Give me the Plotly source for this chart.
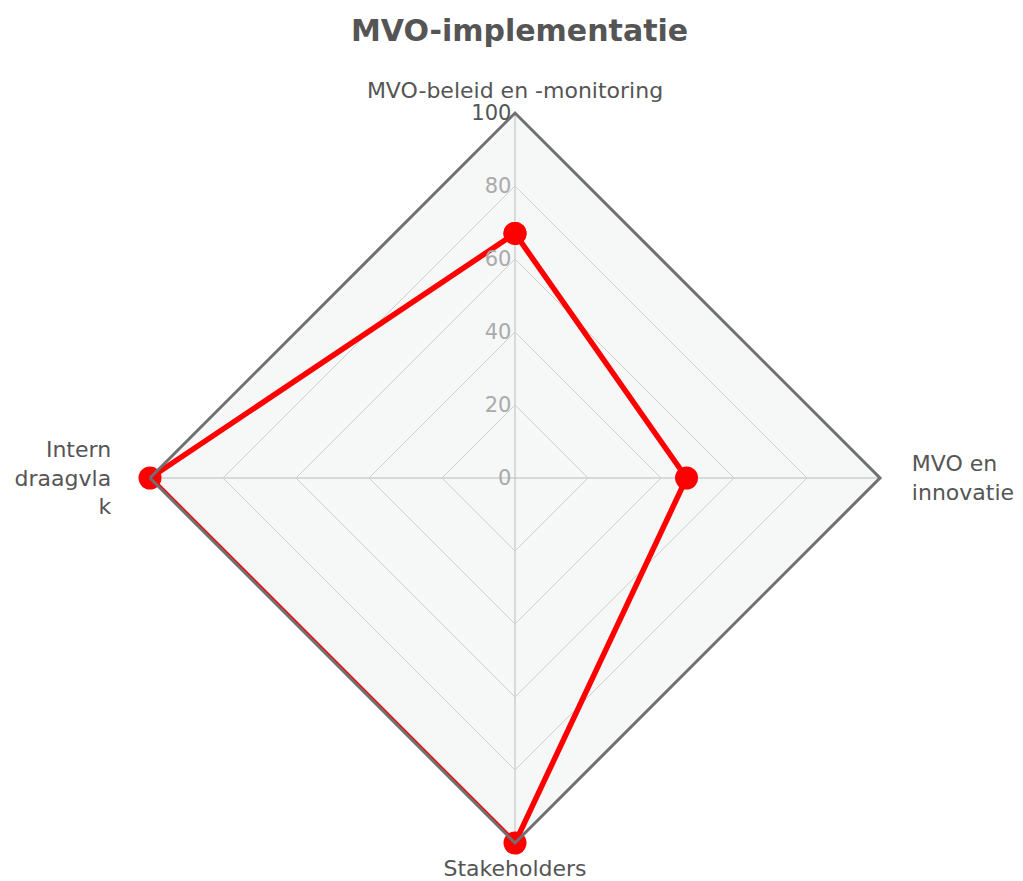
import plotly.graph_objects as go

categories = ["MVO-beleid en -monitoring", "MVO en innovatie", "Stakeholders", "Intern draagvlak"]
category_labels = [
    "MVO-beleid en -monitoring",
    "\u00a0\u00a0\u00a0MVO en<br>\u00a0\u00a0\u00a0innovatie",
    "Stakeholders",
    "Intern\u00a0\u00a0\u00a0\u00a0<br>draagvla\u00a0\u00a0\u00a0\u00a0<br>k\u00a0\u00a0\u00a0\u00a0",
]
values = [67, 47, 100, 100]
radial_ticks = [0, 20, 40, 60, 80, 100]
radial_labels = ["0", "20", "40", "60", "80", "<span style='color:#555555'>100</span>"]

fig = go.Figure()
fig.add_trace(go.Scatterpolar(
    r=values + values[:1],
    theta=categories + categories[:1],
    mode="lines+markers",
    line=dict(color="#ff0000", width=5.5),
    marker=dict(color="#ff0000", size=23),
    showlegend=False,
))

W, H = 1023, 881
cx, cy, R = 507, 470, 365
fig.update_layout(
    width=W, height=H,
    margin=dict(l=0, r=0, t=0, b=0),
    paper_bgcolor="white",
    font=dict(family="DejaVu Sans", color="#555555"),
    title=dict(text="<b>MVO-implementatie</b>", x=0.5, xanchor="center", y=1 - 22 / H, yanchor="middle",
               font=dict(size=30, color="#555555")),
    polar=dict(
        gridshape="linear",
        bgcolor="#f6f7f7",
        domain=dict(x=[(cx - R) / W, (cx + R) / W], y=[1 - (cy + R) / H, 1 - (cy - R) / H]),
        angularaxis=dict(
            rotation=90, direction="clockwise",
            tickvals=categories, ticktext=category_labels,
            linecolor="#707070", linewidth=3,
            gridcolor="#bbbbbb", gridwidth=1,
            tickfont=dict(size=22, color="#555555"),
            ticks="outside", ticklen=5, tickcolor="rgba(0,0,0,0)", showline=True,
        ),
        radialaxis=dict(
            range=[0, 100], tickvals=radial_ticks, ticktext=radial_labels,
            angle=90, tickangle=90, side="counterclockwise",
            showline=False, ticks="",
            gridcolor="#d0d0d0", gridwidth=1,
            tickfont=dict(size=21, color="#aaaaaa"),
        ),
    ),
)
fig.write_html("out.html")
